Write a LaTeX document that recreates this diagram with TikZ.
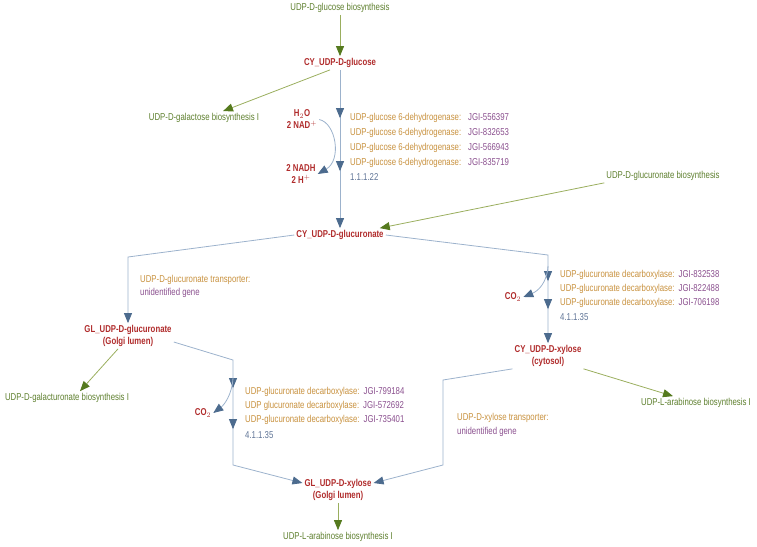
\documentclass[tikz,border=0pt]{standalone}
\usepackage{fontspec}
\setmainfont{Liberation Sans}[FakeStretch=0.78]
\usetikzlibrary{arrows.meta,decorations.markings}

\definecolor{pwgreen}{HTML}{5E7F2E}
\definecolor{lngreen}{HTML}{9AAE5E}
\definecolor{tipgreen}{HTML}{557A1E}
\definecolor{metred}{HTML}{B02C2C}
\definecolor{enzorange}{HTML}{C8913E}
\definecolor{genepurple}{HTML}{8A4F8E}
\definecolor{ecblue}{HTML}{5F7496}
\definecolor{lnblue}{HTML}{9CB2CC}
\definecolor{tipblue}{HTML}{4C6B8E}

\tikzset{bluetip/.tip={Triangle[length=10pt,width=8pt,color=tipblue]}}

\begin{document}
\begin{tikzpicture}[x=1pt,y=-1pt,
    every node/.style={font=\fontsize{10}{12}\selectfont, inner sep=2pt},
    pathway/.style={text=pwgreen},
    met/.style={text=metred, font=\fontsize{10}{12}\selectfont\bfseries, align=center},
    enz/.style={text=enzorange, anchor=west},
    ec/.style={text=ecblue, anchor=west},
    gene/.style={text=genepurple, anchor=west},
    greenline/.style={draw=lngreen, line width=0.8pt, -{Triangle[length=10pt,width=8pt,color=tipgreen]}},
    blueline/.style={draw=lnblue, line width=0.8pt, -{bluetip}},
    arrowat/.style={postaction={decorate,decoration={markings,mark=at position #1 with {\arrow{bluetip}}}}}]
    \useasboundingbox (0,0) rectangle (757,546);

    % metabolites
    \node[met] (glc) at (340,63) {CY\_UDP-D-glucose};
    \node[met] (glcA) at (340,235) {CY\_UDP-D-glucuronate};
    \node[met] (glglcA) at (128,336) {GL\_UDP-D-glucuronate\\(Golgi lumen)};
    \node[met] (xyl) at (548,356) {CY\_UDP-D-xylose\\(cytosol)};
    \node[met] (glxyl) at (338,490) {GL\_UDP-D-xylose\\(Golgi lumen)};

    % side compounds
    \node[met] (nad) at (302,119.5) {H$_2$O\\2 NAD$^+$};
    \node[met] (nadh) at (301,174) {2 NADH\\2 H$^+$};
    \node[met] (co2a) at (513,297) {CO$_2$};
    \node[met] (co2b) at (203,413) {CO$_2$};

    % linked pathways
    \node[pathway] (glcsyn) at (340,8) {UDP-D-glucose biosynthesis};
    \node[pathway] (galsyn) at (204,118) {UDP-D-galactose biosynthesis I};
    \node[pathway] (glcAsyn) at (663,176) {UDP-D-glucuronate biosynthesis};
    \node[pathway] (galAsyn) at (67,398) {UDP-D-galacturonate biosynthesis I};
    \node[pathway] (arasyn1) at (696,403) {UDP-L-arabinose biosynthesis I};
    \node[pathway] (arasyn2) at (338,537) {UDP-L-arabinose biosynthesis I};

    % enzymes
    \node[enz] (ugd1) at (348,118) {UDP-glucose 6-dehydrogenase:\hspace{7pt}\textcolor{genepurple}{JGI-556397}};
    \node[enz] (ugd2) at (348,133) {UDP-glucose 6-dehydrogenase:\hspace{7pt}\textcolor{genepurple}{JGI-832653}};
    \node[enz] (ugd3) at (348,148) {UDP-glucose 6-dehydrogenase:\hspace{7pt}\textcolor{genepurple}{JGI-566943}};
    \node[enz] (ugd4) at (348,163) {UDP-glucose 6-dehydrogenase:\hspace{7pt}\textcolor{genepurple}{JGI-835719}};
    \node[ec] (ugdec) at (348,177) {1.1.1.22};

    \node[enz] (uxsa1) at (558,275) {UDP-glucuronate decarboxylase:\hspace{4pt}\textcolor{genepurple}{JGI-832538}};
    \node[enz] (uxsa2) at (558,289) {UDP-glucuronate decarboxylase:\hspace{4pt}\textcolor{genepurple}{JGI-822488}};
    \node[enz] (uxsa3) at (558,303) {UDP-glucuronate decarboxylase:\hspace{4pt}\textcolor{genepurple}{JGI-706198}};
    \node[ec] (uxsaec) at (558,317) {4.1.1.35};

    \node[enz] (uxsb1) at (243,392) {UDP-glucuronate decarboxylase:\hspace{4pt}\textcolor{genepurple}{JGI-799184}};
    \node[enz] (uxsb2) at (243,406) {UDP glucuronate decarboxylase:\hspace{4pt}\textcolor{genepurple}{JGI-572692}};
    \node[enz] (uxsb3) at (243,420) {UDP-glucuronate decarboxylase:\hspace{4pt}\textcolor{genepurple}{JGI-735401}};
    \node[ec] (uxsbec) at (243,435) {4.1.1.35};

    \node[enz] (tglcA) at (138,280) {UDP-D-glucuronate transporter:};
    \node[gene] (tglcAgene) at (138,293) {unidentified gene};
    \node[enz] (txyl) at (455,418) {UDP-D-xylose transporter:};
    \node[gene] (txylgene) at (455,432) {unidentified gene};

    % pathway links
    \draw[greenline] (glcsyn) -- (glc);
    \draw[greenline] ([xshift=-10pt]glc.south) -- ([xshift=19pt]galsyn.north);
    \draw[greenline] (glcAsyn.south west) -- ([xshift=-6pt]glcA.north east);
    \draw[greenline] ([xshift=-10pt]glglcA.south) -- ([xshift=13pt]galAsyn.north);
    \draw[greenline] (xyl.south east) -- ([xshift=-23pt]arasyn1.north);
    \draw[greenline] (glxyl) -- (arasyn2);

    % reactions
    \draw[blueline, arrowat=-110pt, arrowat=-57pt] (glc) -- (glcA);
    \draw[blueline] (nad.east) .. controls (336,123) and (342,160) .. (nadh.east);

    \draw[blueline] (glcA.west) -- (128,257) -- (glglcA);

    \draw[blueline, arrowat=-62pt, arrowat=-34pt] (glcA.east) -- (548,255) -- (xyl);
    \coordinate (cx1) at (548,266);
    \draw[blueline] (cx1) .. controls (547,283) and (538,291) .. (co2a.east);

    \draw[blueline, arrowat=90pt, arrowat=131pt] ([yshift=-6pt]glglcA.east) -- (233,360) -- (233,465) -- ([yshift=7pt]glxyl.west);
    \coordinate (cx2) at (233,378);
    \draw[blueline] (cx2) .. controls (232,395) and (224,405) .. (co2b.east);

    \draw[blueline] (xyl.south west) -- (443,380) -- (443,465) -- ([yshift=7pt]glxyl.east);
\end{tikzpicture}
\end{document}
